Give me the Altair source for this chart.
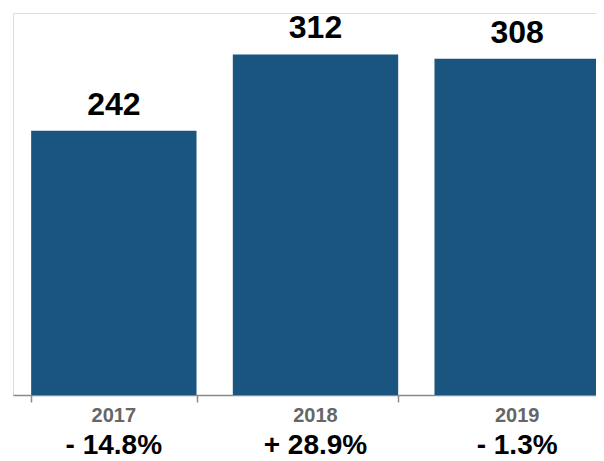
import altair as alt
import pandas as pd

years = ["2017", "2018", "2019"]
values = [242, 312, 308]
changes = ["- 14.8%", "+ 28.9%", "- 1.3%"]

df = pd.DataFrame({"year": years, "value": values, "change": changes})

W = 583      # visible plot width (svg ends at the page edge)
RANGE = 605  # band range extends past the visible edge, as in the reference
H = 382
FONT = "Liberation Sans"

x = alt.X("year:N", sort=years,
          scale=alt.Scale(paddingInner=0.18, paddingOuter=0.09, range=[0, RANGE]),
          axis=alt.Axis(title=None, labels=False, domainColor="#8a8a8a", domainWidth=1.5,
                        tickColor="#8a8a8a", tickSize=7, tickWidth=1.5, tickBand="extent",
                        grid=False))
y = alt.Y("value:Q", scale=alt.Scale(domain=[0, 343]), axis=None)

bars = alt.Chart(df).mark_bar(color="#1a5580").encode(x=x, y=y)

vals = alt.Chart(df).mark_text(font=FONT, fontWeight="bold", fontSize=32, color="#000000",
                               baseline="alphabetic", dy=-16).encode(
    x=alt.X("year:N", sort=years), y="value:Q", text="value:Q")

yrs = alt.Chart(df).mark_text(font=FONT, fontWeight="bold", fontSize=20, color="#666666",
                              baseline="alphabetic").encode(
    x=alt.X("year:N", sort=years), y=alt.value(H + 27), text="year:N")

pcts = alt.Chart(df).mark_text(font=FONT, fontWeight="bold", fontSize=28, color="#000000",
                               baseline="alphabetic").encode(
    x=alt.X("year:N", sort=years), y=alt.value(H + 59), text="change:N")

chart = alt.layer(bars, vals, yrs, pcts).properties(
    width=W, height=H,
    autosize=alt.AutoSizeParams(type="none"),
    padding={"left": 5, "top": 5, "right": 0, "bottom": 72},
).configure_view(strokeWidth=0).configure(background="white")

chart.save("out.html", embed_options={"renderer": "svg", "actions": False})
